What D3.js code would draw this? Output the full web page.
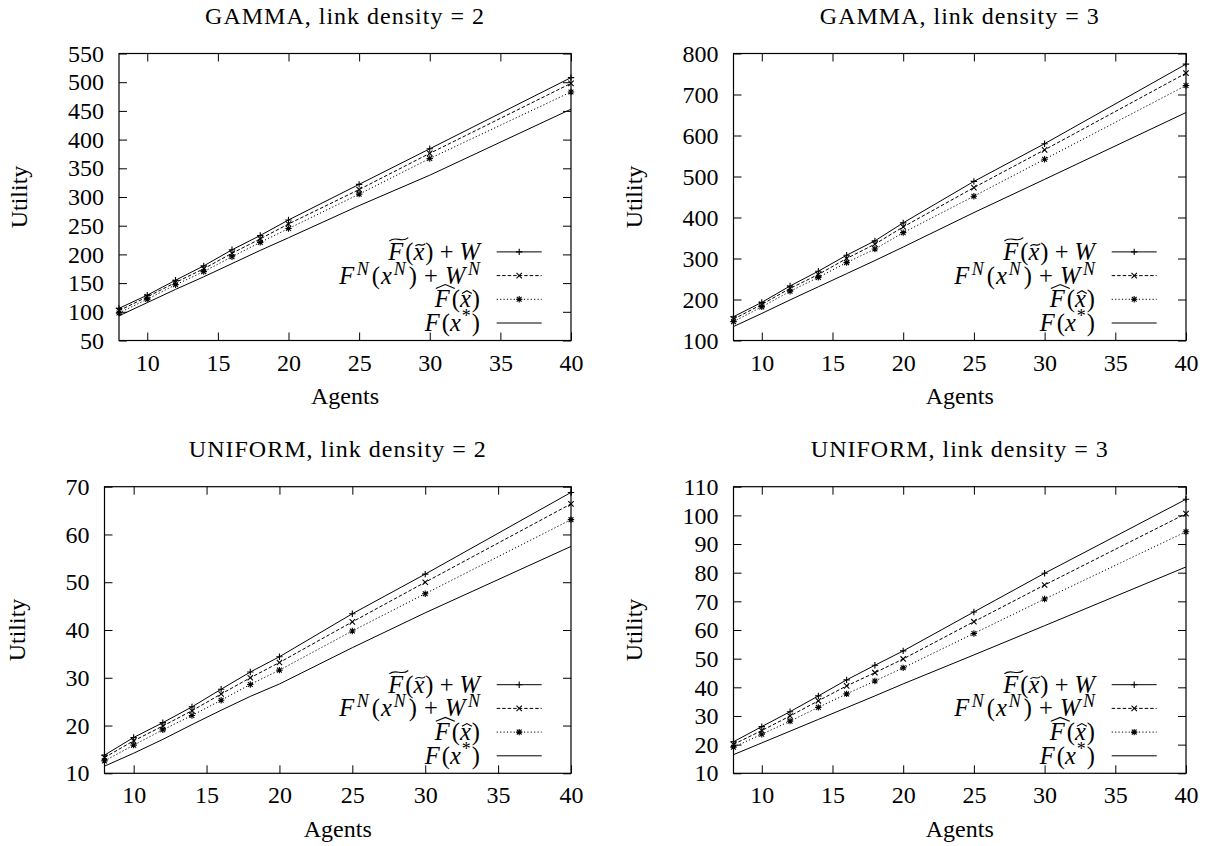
<!DOCTYPE html>
<html>
<head>
<meta charset="utf-8">
<title>Utility vs Agents</title>
<script src="https://cdn.jsdelivr.net/npm/d3@7"></script>
<style>
body { margin: 0; background: #fff; }
</style>
</head>
<body>
<script>
var FONT = "'Liberation Serif', 'Times New Roman', serif";

// shared x values (number of agents)
var agents = [8, 10, 12, 14, 16, 18, 20, 25, 30, 40];
var agentTicks = [10, 15, 20, 25, 30, 35, 40];

// GAMMA, link density = 2
var gamma2Tilde = [106, 129, 155, 180, 208, 233, 260, 322, 384, 508];
var gamma2Nash  = [102, 126, 151, 175, 202, 227, 253, 313, 376, 498];
var gamma2Hat   = [98, 122, 147, 170, 196, 221, 245, 305, 367, 483];
var gamma2Opt   = [93, 116, 139, 161, 184, 207, 229, 285, 338, 453];
var gamma2Ticks = [50, 100, 150, 200, 250, 300, 350, 400, 450, 500, 550];

// GAMMA, link density = 3
var gamma3Tilde = [158, 193, 233, 269, 308, 343, 387, 488, 580, 774];
var gamma3Nash  = [152, 188, 227, 261, 300, 335, 377, 473, 565, 752];
var gamma3Hat   = [146, 182, 220, 254, 290, 323, 363, 452, 542, 722];
var gamma3Opt   = [134, 166, 199, 231, 263, 295, 328, 412, 493, 656];
var gamma3Ticks = [100, 200, 300, 400, 500, 600, 700, 800];

// UNIFORM, link density = 2
var uniform2Tilde = [13.8, 17.5, 20.6, 23.9, 27.6, 31.2, 34.4, 43.4, 51.7, 68.8];
var uniform2Nash  = [13.3, 16.8, 19.9, 23.1, 26.6, 30.0, 33.2, 41.7, 50.0, 66.4];
var uniform2Hat   = [12.6, 15.9, 19.1, 22.1, 25.3, 28.6, 31.6, 39.8, 47.6, 63.1];
var uniform2Opt   = [11.5, 14.2, 17.1, 20.2, 23.2, 26.1, 28.7, 36.3, 43.6, 57.5];
var uniform2Ticks = [10, 20, 30, 40, 50, 60, 70];

// UNIFORM, link density = 3
var uniform3Tilde = [21.0, 26.3, 31.5, 37.0, 42.6, 47.7, 52.7, 66.3, 79.8, 105.6];
var uniform3Nash  = [20.1, 24.9, 30.0, 35.3, 40.5, 45.1, 49.9, 62.9, 75.7, 100.6];
var uniform3Hat   = [19.1, 23.6, 28.2, 33.0, 37.7, 42.2, 46.8, 58.8, 70.8, 94.3];
var uniform3Opt   = [16.5, 20.6, 24.7, 28.8, 32.9, 37.0, 41.2, 51.3, 61.5, 82.0];
var uniform3Ticks = [10, 20, 30, 40, 50, 60, 70, 80, 90, 100, 110];

var titles = ["GAMMA, link density = 2", "GAMMA, link density = 3",
              "UNIFORM, link density = 2", "UNIFORM, link density = 3"];

var panels = [
  { title: titles[0], ticks: gamma2Ticks, series: [gamma2Tilde, gamma2Nash, gamma2Hat, gamma2Opt] },
  { title: titles[1], ticks: gamma3Ticks, series: [gamma3Tilde, gamma3Nash, gamma3Hat, gamma3Opt] },
  { title: titles[2], ticks: uniform2Ticks, series: [uniform2Tilde, uniform2Nash, uniform2Hat, uniform2Opt] },
  { title: titles[3], ticks: uniform3Ticks, series: [uniform3Tilde, uniform3Nash, uniform3Hat, uniform3Opt] }
];

// plot frames (pixels)
var frames = [
  { left: 119, right: 571, top: 53.5, bottom: 340.5 },
  { left: 733.5, right: 1186, top: 53.5, bottom: 340.5 },
  { left: 104.5, right: 571, top: 486.7, bottom: 773.3 },
  { left: 733.5, right: 1186, top: 486.7, bottom: 773.3 }
];

// line style per series
var styles = [
  { dash: null, mark: "plus" },
  { dash: "3.5,2", mark: "cross" },
  { dash: "1.2,2.2", mark: "star" },
  { dash: null, mark: null }
];

var markPaths = {
  plus: "M-3.2,0H3.2M0,-3.2V3.2",
  cross: "M-2.7,-2.7L2.7,2.7M-2.7,2.7L2.7,-2.7",
  star: "M-3.2,0H3.2M0,-3.2V3.2M-2.4,-2.4L2.4,2.4M-2.4,2.4L2.4,-2.4"
};

// legend labels as tokens: it = italic, sup = superscript, acc = accent, dx = extra gap before
var legendLabels = [
  [{t: "F", it: 1, acc: "wtilde"}, {t: "(", dx: 2}, {t: "x", it: 1, acc: "tilde"}, {t: ")", dx: 1}, {t: " + "}, {t: "W", it: 1}],
  [{t: "F", it: 1}, {t: "N", it: 1, sup: 1, dx: 2.5}, {t: "(", dx: 3}, {t: "x", it: 1, dx: 1}, {t: "N", it: 1, sup: 1, dx: 2},
   {t: ")", dx: 3}, {t: " + ", dx: 1}, {t: "W", it: 1, dx: 1}, {t: "N", it: 1, sup: 1, dx: 2.5}],
  [{t: "F", it: 1, acc: "what"}, {t: "(", dx: 2}, {t: "x", it: 1, acc: "hat"}, {t: ")", dx: 1}],
  [{t: "F", it: 1}, {t: "(", dx: 2}, {t: "x", it: 1}, {t: "*", sup: 1, dx: 1}, {t: ")", dx: 1}]
];

var svg = d3.select("body").append("svg")
  .attr("width", 1207)
  .attr("height", 846)
  .style("font-family", FONT);

svg.append("rect").attr("width", 1207).attr("height", 846).attr("fill", "#fff");

function mathLabel(g, tokens, xr, yb) {
  var t = g.append("text")
    .attr("x", xr).attr("y", yb)
    .attr("text-anchor", "end")
    .style("font-family", FONT)
    .style("font-size", "24.5px");
  var cur = 0;
  tokens.forEach(function(tk) {
    var target = tk.sup ? -9 : 0;
    var s = t.append("tspan").attr("dy", target - cur).attr("dx", tk.dx || 0).text(tk.t);
    cur = target;
    if (tk.it) s.style("font-style", "italic");
    if (tk.sup) s.style("font-size", "18px");
  });
  var node = t.node(), idx = 0;
  tokens.forEach(function(tk) {
    if (tk.acc) {
      var e = node.getExtentOfChar(idx);
      var x0, x1, yc, a;
      if (tk.acc == "wtilde" || tk.acc == "what") {
        x0 = e.x + 1; x1 = e.x + e.width + 5; yc = yb - 20.5; a = 1.7;
      } else {
        x0 = e.x + 2; x1 = e.x + e.width + 1; yc = yb - 15; a = 1.2;
      }
      var w = x1 - x0, d;
      if (tk.acc == "wtilde" || tk.acc == "tilde") {
        d = "M" + x0 + "," + (yc + a) +
            "C" + (x0 + w * 0.35) + "," + (yc - 2.4 * a) + " " +
            (x0 + w * 0.65) + "," + (yc + 2.4 * a) + " " + x1 + "," + (yc - a);
      } else {
        d = "M" + x0 + "," + (yc + a) + "L" + (x0 + w / 2) + "," + (yc - a * 1.3) + "L" + x1 + "," + (yc + a);
      }
      g.append("path").attr("d", d).attr("fill", "none").attr("stroke", "#000").attr("stroke-width", 1.1);
    }
    idx += tk.t.length;
  });
}

panels.forEach(function(p, k) {
  var f = frames[k];
  var x = d3.scaleLinear().domain([agents[0], agents[agents.length - 1]]).range([f.left, f.right]);
  var y = d3.scaleLinear().domain([p.ticks[0], p.ticks[p.ticks.length - 1]]).range([f.bottom, f.top]);
  var g = svg.append("g");

  g.append("text")
    .attr("x", (f.left + f.right) / 2)
    .attr("y", f.top - 30)
    .attr("text-anchor", "middle")
    .style("font-family", FONT)
    .style("font-size", "24px")
    .style("letter-spacing", "1px")
    .text(p.title);

  // axes, ticks pointing inward and mirrored
  var xb = g.append("g").attr("transform", "translate(0," + f.bottom + ")")
    .call(d3.axisBottom(x).tickValues(agentTicks).tickSize(-8).tickSizeOuter(0).tickPadding(13));
  var xt = g.append("g").attr("transform", "translate(0," + f.top + ")")
    .call(d3.axisTop(x).tickValues(agentTicks).tickSize(-8).tickSizeOuter(0).tickFormat(""));
  var yl = g.append("g").attr("transform", "translate(" + f.left + ",0)")
    .call(d3.axisLeft(y).tickValues(p.ticks).tickSize(-8).tickSizeOuter(0).tickPadding(15));
  var yr = g.append("g").attr("transform", "translate(" + f.right + ",0)")
    .call(d3.axisRight(y).tickValues(p.ticks).tickSize(-8).tickSizeOuter(0).tickFormat(""));

  [xb, xt, yl, yr].forEach(function(a) {
    a.attr("font-family", FONT).attr("font-size", null);
    a.select(".domain").remove();
    a.selectAll("line").attr("stroke", "#000").attr("stroke-width", 1);
    a.selectAll("text")
      .style("font-family", FONT)
      .style("font-size", "24px")
      .attr("fill", "#000");
  });

  g.append("rect")
    .attr("x", f.left).attr("y", f.top)
    .attr("width", f.right - f.left).attr("height", f.bottom - f.top)
    .attr("fill", "none").attr("stroke", "#000").attr("stroke-width", 1.2);

  var labW = d3.max(yl.selectAll("text").nodes(), function(n) { return n.getComputedTextLength(); });

  g.append("text")
    .attr("transform", "translate(" + (f.left - 15 - labW - 49) + "," + ((f.top + f.bottom) / 2) + ") rotate(-90)")
    .attr("text-anchor", "middle")
    .attr("dy", "0.35em")
    .style("font-family", FONT)
    .style("font-size", "24px")
    .text("Utility");

  g.append("text")
    .attr("x", (f.left + f.right) / 2)
    .attr("y", f.bottom + 63.5)
    .attr("text-anchor", "middle")
    .style("font-family", FONT)
    .style("font-size", "24px")
    .text("Agents");

  var line = d3.line()
    .x(function(d, i) { return x(agents[i]); })
    .y(function(d) { return y(d); });

  p.series.forEach(function(s, i) {
    var st = styles[i];
    g.append("path")
      .attr("d", line(s))
      .attr("fill", "none")
      .attr("stroke", "#000")
      .attr("stroke-width", 1)
      .attr("stroke-dasharray", st.dash);
    if (st.mark) {
      g.selectAll(null).data(s).enter().append("path")
        .attr("transform", function(d, j) { return "translate(" + x(agents[j]) + "," + y(d) + ")"; })
        .attr("d", markPaths[st.mark])
        .attr("fill", "none")
        .attr("stroke", "#000")
        .attr("stroke-width", 1.1);
    }
  });

  // legend, bottom right inside the plot
  styles.forEach(function(st, i) {
    var ly = f.bottom - 17.5 - (3 - i) * 23.7;
    var lx1 = f.right - 29.3, lx0 = lx1 - 45;
    g.append("line")
      .attr("x1", lx0).attr("x2", lx1).attr("y1", ly).attr("y2", ly)
      .attr("stroke", "#000").attr("stroke-width", 1)
      .attr("stroke-dasharray", st.dash);
    if (st.mark) {
      g.append("path")
        .attr("transform", "translate(" + ((lx0 + lx1) / 2) + "," + ly + ")")
        .attr("d", markPaths[st.mark])
        .attr("fill", "none").attr("stroke", "#000").attr("stroke-width", 1.1);
    }
    mathLabel(g, legendLabels[i], lx0 - 16.7, ly + 8);
  });
});
</script>
</body>
</html>
